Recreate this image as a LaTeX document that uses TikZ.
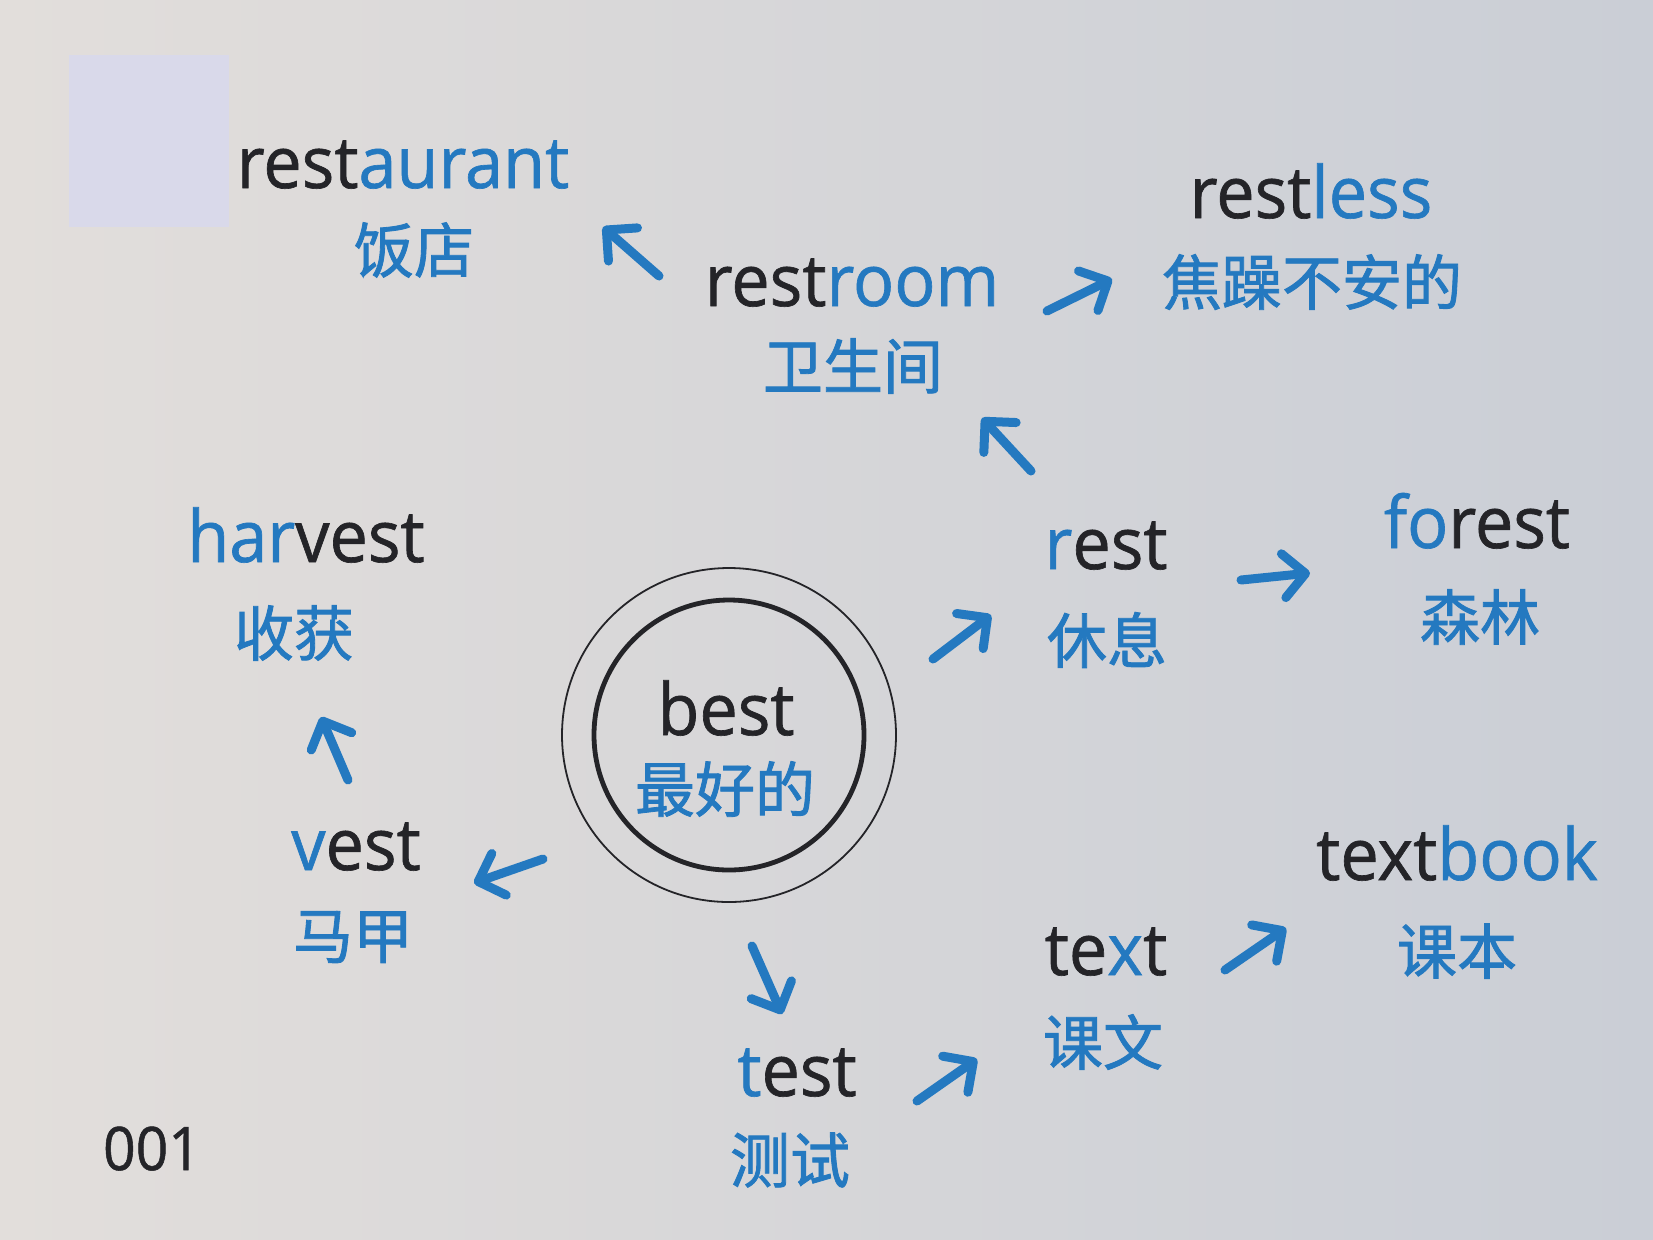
\documentclass[tikz,border=0pt]{standalone}
\usepackage{fontspec}
\setmainfont{Open Sans}[FakeStretch=0.95, FakeBold=0.9]
\newfontfamily\cjk{Noto Sans CJK SC}[FakeBold=1.4]
\usetikzlibrary{arrows.meta}
\definecolor{blu}{RGB}{36,121,192}
\definecolor{ink}{RGB}{36,36,40}
\definecolor{bgL}{RGB}{226,222,219}
\definecolor{bgR}{RGB}{202,206,214}
\definecolor{boxc}{RGB}{217,217,234}
\newcommand{\B}[1]{\textcolor{blu}{#1}}
\tikzset{
  en/.style={anchor=base, inner sep=0pt, text=ink, font=\fontsize{36}{40}\selectfont},
  zh/.style={anchor=center, inner sep=0pt, text=blu, font=\cjk\fontsize{30}{34}\selectfont},
  arr/.style={draw=blu, line width=4.5pt, line cap=round, line join=round,
    -{Straight Barb[length=11pt, width=22pt, line width=4.5pt, round]}},
  ring/.style={circle, draw=ink, inner sep=0pt}
}
\begin{document}
\begin{tikzpicture}[x=0.5pt, y=-0.5pt]
\useasboundingbox (0,0) rectangle (1653,1239);
\shade[left color=bgL, right color=bgR] (0,0) rectangle (1653,1239);
\fill[boxc] (69,55) rectangle (229,227);

% centre
\node[ring, line width=0.9pt, minimum size=167pt] (outer) at (729,735) {};
\node[ring, line width=2.4pt, minimum size=135pt] (inner) at (729,735) {};
\node[en] (best) at (726,735) {best};
\node[zh] (bestz) at (725,789) {最好的};

% words
\node[en] (restaurant) at (403,188) {rest\B{aurant}};
\node[zh] (restaurantz) at (414,250) {饭店};
\node[en] (restroom) at (852,306) {rest\B{room}};
\node[zh] (restroomz) at (853,366) {卫生间};
\node[en] (restless) at (1311,218) {rest\B{less}};
\node[zh] (restlessz) at (1312,282) {焦躁不安的};
\node[en] (rest) at (1106,569) {\B{r}est};
\node[zh] (restz) at (1107,640) {休息};
\node[en] (forest) at (1477,548) {\B{fo}rest};
\node[zh] (forestz) at (1480,617) {森林};
\node[en] (harvest) at (306,562) {\B{har}vest};
\node[zh] (harvestz) at (294,633) {收获};
\node[en] (vest) at (356,870) {\B{v}est};
\node[zh] (vestz) at (353,937) {马甲};
\node[en] (test) at (797,1096) {\B{t}est};
\node[zh] (testz) at (790,1160) {测试};
\node[en] (text) at (1106,975) {te\B{x}t};
\node[zh] (textz) at (1103,1042) {课文};
\node[en] (textbook) at (1457,880) {text\B{book}};
\node[zh] (textbookz) at (1457,951) {课本};
\node[en, font=\fontsize{30}{34}\selectfont] (pageno) at (152,1170) {001};

% arrow ends
\coordinate (a1s) at (659,276);  \coordinate (a1e) at (603,227);
\coordinate (a2s) at (1047,311); \coordinate (a2e) at (1112,279);
\coordinate (a3s) at (1031,471); \coordinate (a3e) at (982,418);
\coordinate (a4s) at (1241,580); \coordinate (a4e) at (1310,573);
\coordinate (a5s) at (933,659);  \coordinate (a5e) at (991,615);
\coordinate (a6s) at (348,780);  \coordinate (a6e) at (321,717);
\coordinate (a7s) at (543,859);  \coordinate (a7e) at (474,883);
\coordinate (a8s) at (752,946);  \coordinate (a8e) at (782,1014);
\coordinate (a9s) at (917,1101); \coordinate (a9e) at (977,1059);
\coordinate (a10s) at (1225,970); \coordinate (a10e) at (1286,928);

\foreach \i in {1,...,10} { \draw[arr] (a\i s) -- (a\i e); }
\end{tikzpicture}
\end{document}
